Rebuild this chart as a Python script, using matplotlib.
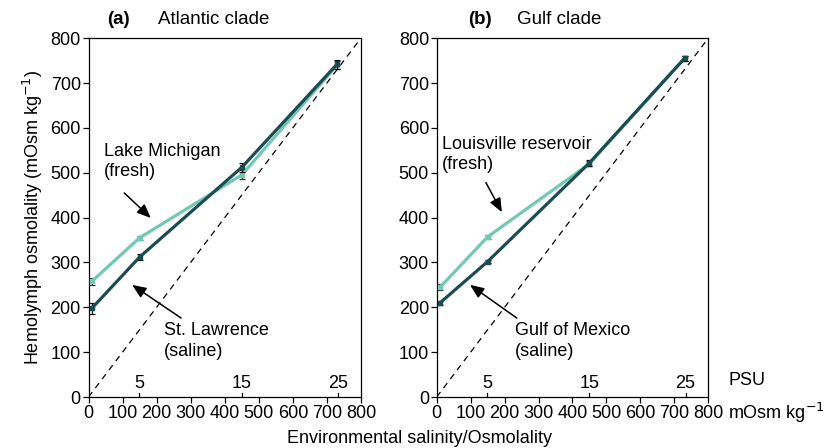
import matplotlib
matplotlib.use("Agg")
import matplotlib.pyplot as plt

plt.rcParams['font.family'] = ['Liberation Sans', 'DejaVu Sans']

env_osm = [10, 150, 450, 730]
psu_ticks = [148, 450, 733]
psu_labels = ['5', '15', '25']

# Panel a: Atlantic clade
lake_michigan = [258, 355, 495, 740]
lake_michigan_err = [8, 5, 10, 8]
st_lawrence = [198, 312, 512, 742]
st_lawrence_err = [12, 6, 10, 10]

# Panel b: Gulf clade
louisville = [245, 357, 520, 755]
louisville_err = [7, 4, 6, 6]
gulf_mexico = [210, 302, 522, 755]
gulf_mexico_err = [4, 4, 6, 6]

light = '#72C8B3'
dark = '#1B4C51'
FS = 13

fig = plt.figure(figsize=(8.28, 4.48), dpi=100)
axa = fig.add_axes([0.1069, 0.1138, 0.329, 0.801])
axb = fig.add_axes([0.5274, 0.1138, 0.328, 0.801])

def draw(ax, fresh, fresh_err, saline, saline_err, panel, title, pan_x, tit_x,
         fresh_lbl, fresh_txt, fresh_tail, fresh_head,
         sal_lbl, sal_txt, sal_tail, sal_head, show_ylabel):
    ax.plot([0, 800], [0, 800], ls=(0, (5, 4)), color='black', lw=0.9, zorder=1)
    ax.errorbar(env_osm, fresh, yerr=fresh_err, color=light, lw=2.3,
                ecolor='#333333', elinewidth=0.9, capsize=2, capthick=0.9,
                marker='s', ms=2.5, mfc=light, mec=light, zorder=3)
    ax.errorbar(env_osm, saline, yerr=saline_err, color=dark, lw=2.3,
                ecolor='#111111', elinewidth=0.9, capsize=2, capthick=0.9,
                marker='s', ms=2.5, mfc=dark, mec=dark, zorder=4)
    ax.set_xlim(0, 800)
    ax.set_ylim(0, 800)
    ax.set_xticks(range(0, 801, 100))
    ax.set_yticks(range(0, 801, 100))
    ax.tick_params(axis='both', labelsize=FS, length=4, width=0.9, pad=1.5)
    for s in ax.spines.values():
        s.set_linewidth(0.9)
    # PSU inner ticks
    for xt, lab in zip(psu_ticks, psu_labels):
        ax.plot([xt, xt], [0, 8], color='black', lw=0.9, clip_on=False)
        ax.text(xt, 12, lab, ha='center', va='bottom', fontsize=FS)
    ax.text(pan_x, 1.028, panel, transform=ax.transAxes, ha='left', va='bottom',
            fontsize=13.5, fontweight='bold')
    ax.text(tit_x, 1.028, title, transform=ax.transAxes, ha='left', va='bottom',
            fontsize=13.5)
    ax.text(fresh_txt[0], fresh_txt[1], fresh_lbl, ha='left', va='center',
            fontsize=FS, linespacing=1.25)
    ax.text(sal_txt[0], sal_txt[1], sal_lbl, ha='left', va='center',
            fontsize=FS, linespacing=1.25)
    ax.annotate('', xy=fresh_head, xytext=fresh_tail,
                arrowprops=dict(arrowstyle='-|>,head_length=0.6,head_width=0.25',
                                color='black', lw=1.1,
                                mutation_scale=14, shrinkA=0, shrinkB=0))
    ax.annotate('', xy=sal_head, xytext=sal_tail,
                arrowprops=dict(arrowstyle='-|>,head_length=0.6,head_width=0.25',
                                color='black', lw=1.1,
                                mutation_scale=14, shrinkA=0, shrinkB=0))
    if show_ylabel:
        ax.set_ylabel('Hemolymph osmolality (mOsm kg$^{-1}$)', fontsize=FS, labelpad=4)

draw(axa, lake_michigan, lake_michigan_err, st_lawrence, st_lawrence_err,
     '(a)', 'Atlantic clade', 0.068, 0.255,
     'Lake Michigan\n(fresh)', (45, 525), (105, 455), (183, 399),
     'St. Lawrence\n(saline)', (222, 125), (272, 176), (128, 250), True)
draw(axb, louisville, louisville_err, gulf_mexico, gulf_mexico_err,
     '(b)', 'Gulf clade', 0.115, 0.296,
     'Louisville reservoir\n(fresh)', (16, 541), (145, 478), (192, 412),
     'Gulf of Mexico\n(saline)', (231, 125), (236, 176), (98, 250), False)

axb.text(1.075, 0.045, 'PSU', transform=axb.transAxes, ha='left', va='center', fontsize=FS)
axb.text(1.072, -0.045, 'mOsm kg$^{-1}$', transform=axb.transAxes, ha='left', va='center', fontsize=FS)
fig.text(0.507, 0.022, 'Environmental salinity/Osmolality', ha='center', va='center', fontsize=FS)

fig.savefig('out.png', dpi=100)
